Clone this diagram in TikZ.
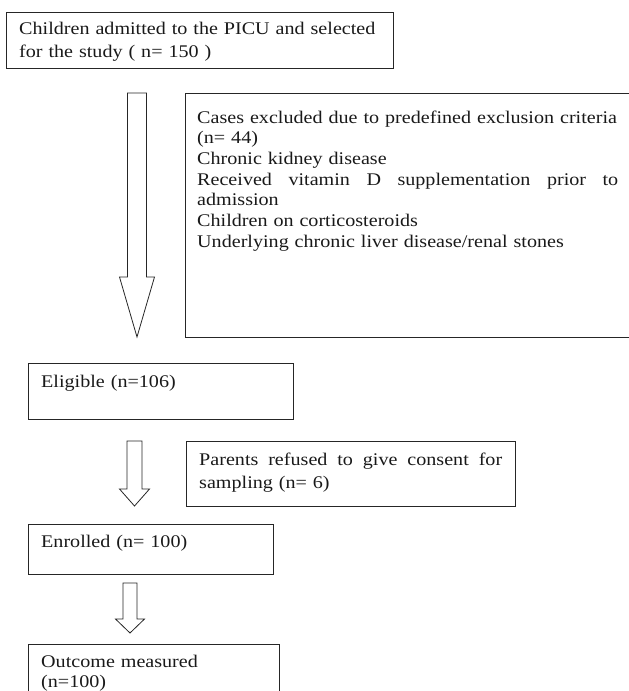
\documentclass[tikz,border=0pt]{standalone}
\usepackage{fontspec}
\setmainfont{Liberation Serif}[FakeStretch=1.13]
\usetikzlibrary{calc}
\tikzstyle{box} = [rectangle, draw=black!85, line width=0.9pt,
  anchor=north west, inner sep=0pt]
\tikzstyle{txt} = [anchor=base west, inner sep=0pt, align=left,
  text=black!90]
\tikzstyle{barrow} = [draw=black!85, line width=0.8pt, fill=white]

% hollow block arrow: x, top, tip, half shaft, half head, head length
\newcommand{\blockarrow}[6]{%
  \draw[barrow] (#1-#4,#2) -- (#1+#4,#2) -- (#1+#4,#3-#6)
    -- (#1+#5,#3-#6) -- (#1,#3) -- (#1-#5,#3-#6) -- (#1-#4,#3-#6) -- cycle;}

\begin{document}
\begin{tikzpicture}[x=1pt, y=-1pt]
\useasboundingbox (0,0) rectangle (629,691);
\clip (0,0) rectangle (629,691);

%% ---- TOP ----
\node (adm) [box, minimum width=387, minimum height=56] at (6,12) {};
\node (adm_t) [txt, text width=372,
  font=\fontsize{17.8}{23}\selectfont] at (19,34)
  {Children admitted to the PICU and selected\\for the study ( n= 150 )};

%% ---- EXCLUDED ----
\node (excl) [box, minimum width=447, minimum height=244] at (185,93) {};
\node (excl_t) [txt, text width=421,
  font=\fontsize{17.8}{20.7}\selectfont] at (197,123)
  {Cases excluded due to predefined exclusion criteria\\
   (n= 44)\\
   Chronic kidney disease\\
   Received\hfill vitamin\hfill D\hfill supplementation\hfill prior\hfill to\\
   admission\\
   Children on corticosteroids\\
   Underlying chronic liver disease/renal stones};

\blockarrow{137}{93}{337}{9.5}{17.5}{60}

%% ---- ELIGIBLE ----
\node (elig) [box, minimum width=265, minimum height=56] at (28,363) {};
\node (elig_t) [txt, text width=240,
  font=\fontsize{17.8}{21}\selectfont] at (41,387) {Eligible (n=106)};

%% ---- REFUSED ----
\node (refu) [box, minimum width=329, minimum height=65] at (186,441) {};
\node (refu_t) [txt, text width=303,
  font=\fontsize{17.8}{23}\selectfont] at (199,465)
  {Parents\hfill refused\hfill to\hfill give\hfill consent\hfill for\\
   sampling (n= 6)};

\blockarrow{134.5}{441}{506}{7.5}{15}{17}

%% ---- ENROLLED ----
\node (enrl) [box, minimum width=245, minimum height=50] at (28,524) {};
\node (enrl_t) [txt, text width=220,
  font=\fontsize{17.8}{21}\selectfont] at (41,547) {Enrolled (n= 100)};

\blockarrow{130}{583}{633}{7}{14.5}{14}

%% ---- OUTCOME ----
\node (outc) [box, minimum width=251, minimum height=60] at (28,644) {};
\node (outc_t) [txt, text width=220,
  font=\fontsize{17.8}{20}\selectfont] at (41,667)
  {Outcome measured\\(n=100)};

\end{tikzpicture}
\end{document}
